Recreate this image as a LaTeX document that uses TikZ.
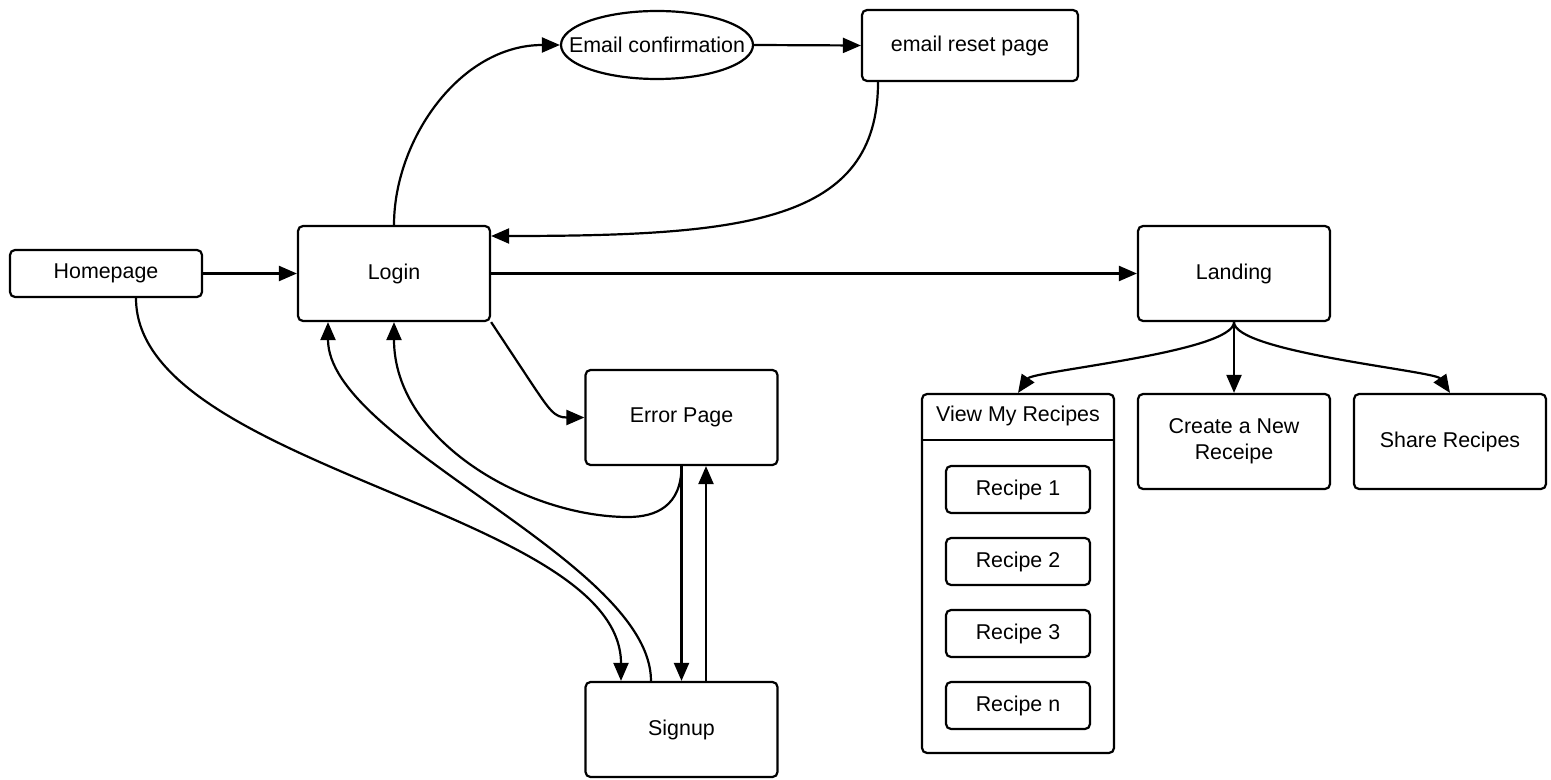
\documentclass[tikz,border=0pt]{standalone}
\usepackage{fontspec}
\setmainfont{Liberation Sans}
\usetikzlibrary{arrows.meta,shapes.geometric}

\tikzset{
  txt/.style={font=\fontsize{10.7}{13}\selectfont, align=center, inner sep=0pt},
  page/.style={txt, draw, line width=1.1pt, rounded corners=2.5pt, minimum width=96pt, minimum height=47.5pt},
  smallpage/.style={page, minimum height=23.5pt},
  flow/.style={line width=1.1pt, -{Triangle[length=9pt,width=7.5pt]}},
}

\begin{document}
\begin{tikzpicture}[x=0.5pt,y=0.5pt,yscale=-1,xscale=1]
\useasboundingbox (0,0) rectangle (1551,780);

%Shapes
\node[smallpage] (home) at (106,273.5) {Homepage};
\node[page] (login) at (394,273.5) {Login};
\node[draw, ellipse, line width=1.1pt, minimum width=96pt, minimum height=34pt, inner sep=0pt] (emailconf) at (657,45) {};
\node[txt] (emailtxt) at (emailconf.center) {Email confirmation};
\node[page, minimum width=108pt, minimum height=35.5pt] (reset) at (970,45.5) {email reset page};
\node[page] (landing) at (1234,273.5) {Landing};
\node[page] (error) at (681.5,417.5) {Error Page};
\node[page] (signup) at (681.5,729.5) {Signup};
\node[page] (create) at (1234,441.5) {Create a New\\Receipe};
\node[page] (share) at (1450,441.5) {Share Recipes};

%Container
\node[page, minimum height=179.5pt] (view) at (1018,573.5) {};
\node[txt] (viewtitle) at (1018,416) {View My Recipes};
\draw[line width=1.1pt] ([yshift=23.5pt]view.north west) -- ([yshift=23.5pt]view.north east);
\foreach \n/\y in {1/489.5,2/561.5,3/633.5,n/705.5}
  \node[smallpage, minimum width=72pt] (recipe\n) at (1018,\y) {Recipe \n};

%Connectors
\coordinate (errdip) at (628,517);
\draw[flow] (home.east) -- (login.west);
\draw[flow] (login.north) .. controls +(0,-85) and +(-100,0) .. (emailconf.west);
\draw[flow] (emailconf.east) -- (reset.west);
\draw[flow] ([xshift=-46pt]reset.south) .. controls +(0,140) and +(255,0) .. ([yshift=-18.75pt]login.east);
\draw[flow] (login.east) -- (landing.west);
\draw[flow] (login.south east) -- ++(39,59) .. controls +(20,30) and +(-30,0) .. (error.west);
\draw[flow] (error.south) .. controls +(0,40) and +(28,0) .. (errdip) .. controls +(-100,0) and +(0,120) .. (login.south);
\draw[flow] (error.south) -- (signup.north);
\draw[flow] ([xshift=12.25pt]signup.north) -- ([xshift=12.25pt]error.south);
\draw[flow] ([xshift=-15.25pt]signup.north) .. controls +(0,-120) and +(0,120) .. ([xshift=-33pt]login.south);
\draw[flow] ([xshift=15pt]home.south) .. controls +(0,170) and +(0,-170) .. ([xshift=-30.25pt]signup.north);
\draw[flow] (landing.south) .. controls +(0,30) and +(15,-22) .. (view.north);
\draw[flow] (landing.south) -- (create.north);
\draw[flow] (landing.south) .. controls +(0,30) and +(-15,-22) .. (share.north);

\end{tikzpicture}
\end{document}
